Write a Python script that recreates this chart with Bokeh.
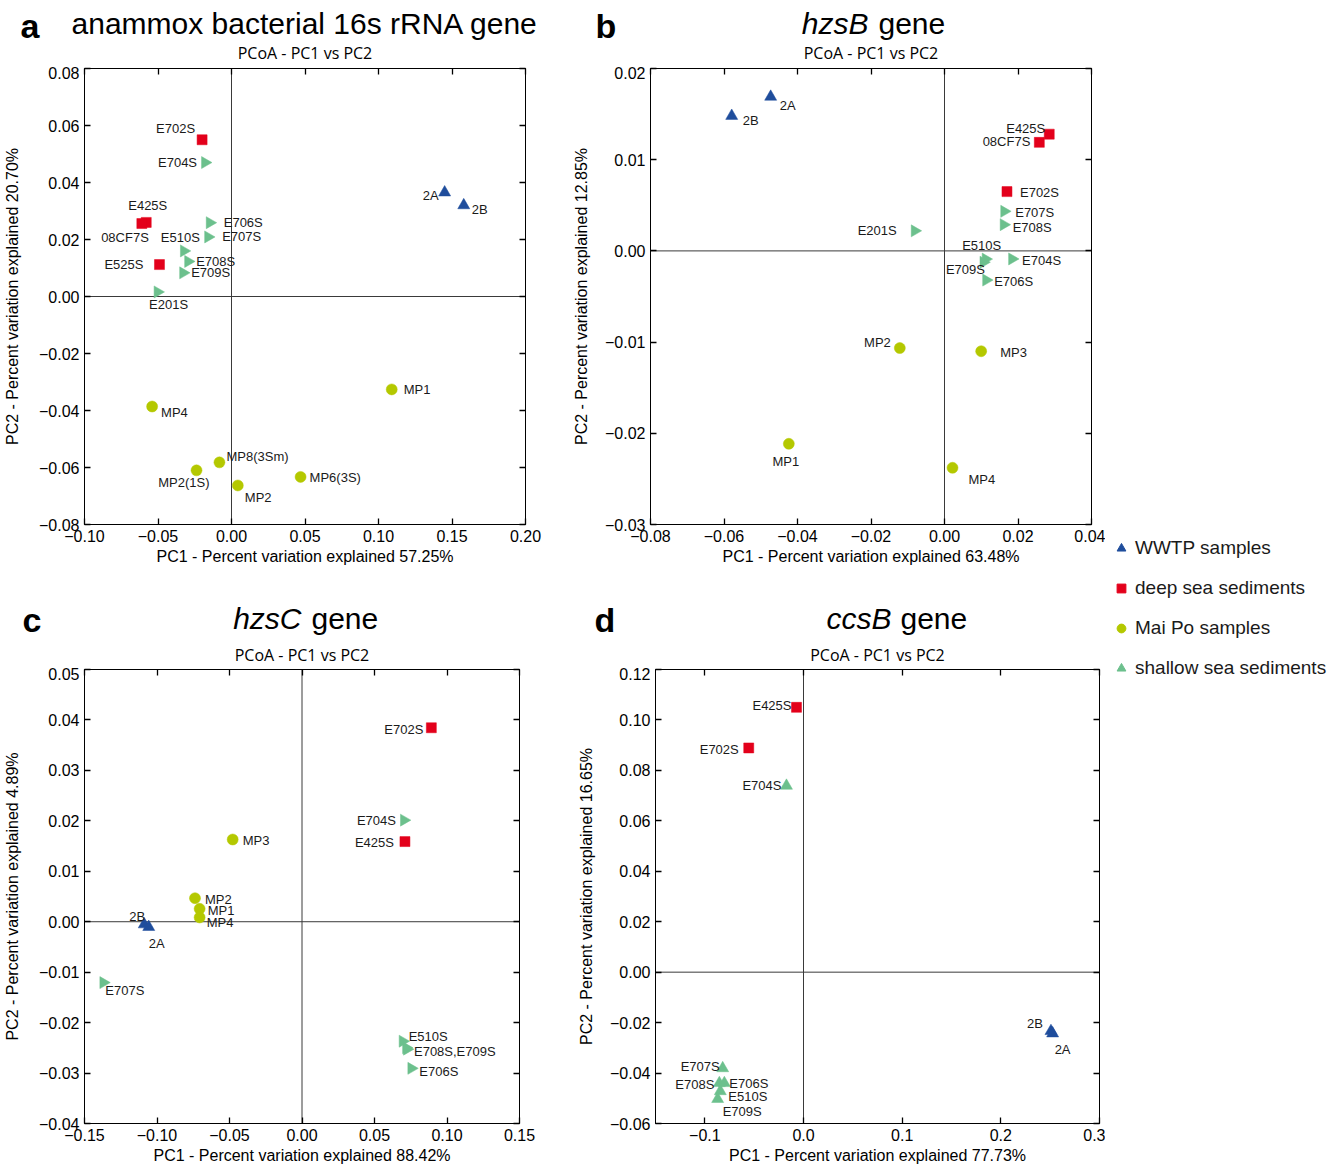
import math
from bokeh.plotting import figure
from bokeh.models import (ColumnDataSource, Span, Label, LinearAxis, FixedTicker,
                          Legend, LegendItem, Range1d, CustomJSTickFormatter,
                          CustomLabelingPolicy)
from bokeh.layouts import row, column
from bokeh.embed import file_html
from bokeh.resources import INLINE
from bokeh.core.properties import value

FONT = "Liberation Sans"
SUB_FONT = "Open Sans"

# ---------------- groups ----------------
GROUPS = ["WWTP", "deep", "MaiPo", "shallow"]
GROUP_LABELS = ["WWTP samples", "deep sea sediments", "Mai Po samples", "shallow sea sediments"]
GROUP_COLORS = ["#1f4d9c", "#e3001b", "#b4c800", "#6cc08d"]
GROUP_MARKERS = ["triangle", "square", "circle", "triangle"]
GROUP_SIZES = [12, 10, 11, 12]

# ---------------- panel a : anammox bacterial 16s rRNA gene ----------------
a_names = ["2A", "2B", "E702S", "E425S", "08CF7S", "E525S", "E704S", "E706S", "E707S",
           "E510S", "E708S", "E709S", "E201S", "MP1", "MP4", "MP8(3Sm)", "MP2(1S)", "MP2", "MP6(3S)"]
a_groups = ["WWTP", "WWTP", "deep", "deep", "deep", "deep", "shallow", "shallow", "shallow",
            "shallow", "shallow", "shallow", "shallow", "MaiPo", "MaiPo", "MaiPo", "MaiPo", "MaiPo", "MaiPo"]
a_pc1 = [0.145, 0.158, -0.020, -0.058, -0.061, -0.049, -0.018, -0.0148, -0.0159,
         -0.0324, -0.0295, -0.0329, -0.0503, 0.109, -0.054, -0.0082, -0.0238, 0.0043, 0.047]
a_pc2 = [0.0365, 0.032, 0.055, 0.026, 0.0256, 0.0112, 0.047, 0.0259, 0.0209,
         0.016, 0.0123, 0.0083, 0.0016, -0.0326, -0.0386, -0.0582, -0.061, -0.0663, -0.0633]
a_xticks = [-0.10, -0.05, 0.0, 0.05, 0.10, 0.15, 0.20]
a_xticklabels = ["\u22120.10", "\u22120.05", "0.00", "0.05", "0.10", "0.15", "0.20"]
a_yticks = [-0.08, -0.06, -0.04, -0.02, 0.0, 0.02, 0.04, 0.06, 0.08]
a_yticklabels = ["\u22120.08", "\u22120.06", "\u22120.04", "\u22120.02", "0.00", "0.02", "0.04", "0.06", "0.08"]
a_xrange = [-0.10, 0.20]
a_yrange = [-0.08, 0.08]
a_title = "anammox bacterial 16s rRNA gene"
a_xlabel = "PC1 - Percent variation explained 57.25%"
a_ylabel = "PC2 - Percent variation explained 20.70%"
# label placement (pixels) and alignment
a_dx = [-6, 8, -7, 1.5, 7, -16, -8, 14, 14, 16, 8, 8, 11, 12, 9, 7, 13, 7, 9]
a_dy = [3, 4, -11, -17, 14, 0, 0, 0, 0, -13, 0, 0, 13, 0, 6, -6, 12, 12, 1]
a_align = ["right", "left", "right", "center", "right", "right", "right", "left", "left",
           "right", "left", "left", "center", "left", "left", "left", "right", "left", "left"]

# ---------------- panel b : hzsB gene ----------------
b_names = ["2A", "2B", "E425S", "08CF7S", "E702S", "E707S", "E708S", "E201S", "E510S",
           "E709S", "E704S", "E706S", "MP2", "MP3", "MP1", "MP4"]
b_groups = ["WWTP", "WWTP", "deep", "deep", "deep", "shallow", "shallow", "shallow", "shallow",
            "shallow", "shallow", "shallow", "MaiPo", "MaiPo", "MaiPo", "MaiPo"]
b_pc1 = [-0.0473, -0.0579, 0.0285, 0.0258, 0.0170, 0.01625, 0.0161, -0.0081, 0.0112,
         0.0106, 0.0184, 0.01134, -0.01216, 0.00998, -0.04236, 0.00218]
b_pc2 = [0.0169, 0.0148, 0.0128, 0.0119, 0.0065, 0.00434, 0.00288, 0.0022, -0.0009,
         -0.00124, -0.00088, -0.0032, -0.01065, -0.0110, -0.02115, -0.02378]
b_xticks = [-0.08, -0.06, -0.04, -0.02, 0.0, 0.02, 0.04]
b_xticklabels = ["\u22120.08", "\u22120.06", "\u22120.04", "\u22120.02", "0.00", "0.02", "0.04"]
b_yticks = [-0.03, -0.02, -0.01, 0.0, 0.01, 0.02]
b_yticklabels = ["\u22120.03", "\u22120.02", "\u22120.01", "0.00", "0.01", "0.02"]
b_xrange = [-0.08, 0.04]
b_yrange = [-0.03, 0.02]
b_gene = "hzsB"
b_xlabel = "PC1 - Percent variation explained 63.48%"
b_ylabel = "PC2 - Percent variation explained 12.85%"
b_dx = [9, 11, -4, -9, 13, 11, 9, -18, -4, -18, 10, 8, -9, 19, -3, 16]
b_dy = [9, 5, -6, -1, 1, 1, 3, 0, -14, 7, 2, 1, -6, 1, 18, 12]
b_align = ["left", "left", "right", "right", "left", "left", "left", "right", "center",
           "center", "left", "left", "right", "left", "center", "left"]

# ---------------- panel c : hzsC gene ----------------
c_names = ["MP3", "MP2", "MP1", "MP4", "2B", "2A", "E707S", "E702S", "E704S", "E425S",
           "E510S", "E708S", "E709S", "E706S"]
c_labels = ["MP3", "MP2", "MP1", "MP4", "2B", "2A", "E707S", "E702S", "E704S", "E425S",
            "E510S", "E708S,E709S", "", "E706S"]
c_groups = ["MaiPo", "MaiPo", "MaiPo", "MaiPo", "WWTP", "WWTP", "shallow", "deep", "shallow", "deep",
            "shallow", "shallow", "shallow", "shallow"]
c_pc1 = [-0.0478, -0.0738, -0.0706, -0.0706, -0.1088, -0.1057, -0.137, 0.0892, 0.0703, 0.0710,
         0.0694, 0.0724, 0.0718, 0.0754]
c_pc2 = [0.0163, 0.00466, 0.00256, 0.00085, -0.00053, -0.00105, -0.01207, 0.03845, 0.02014, 0.01589,
         -0.02368, -0.02526, -0.0250, -0.02907]
c_xticks = [-0.15, -0.10, -0.05, 0.0, 0.05, 0.10, 0.15]
c_xticklabels = ["\u22120.15", "\u22120.10", "\u22120.05", "0.00", "0.05", "0.10", "0.15"]
c_yticks = [-0.04, -0.03, -0.02, -0.01, 0.0, 0.01, 0.02, 0.03, 0.04, 0.05]
c_yticklabels = ["\u22120.04", "\u22120.03", "\u22120.02", "\u22120.01", "0.00", "0.01", "0.02", "0.03", "0.04", "0.05"]
c_xrange = [-0.15, 0.15]
c_yrange = [-0.04, 0.05]
c_gene = "hzsC"
c_xlabel = "PC1 - Percent variation explained 88.42%"
c_ylabel = "PC2 - Percent variation explained 4.89%"
c_dx = [10, 10, 8, 7, -7, 8, 2, -8, -8, -11, 6, 7, 0, 8]
c_dy = [1, 1, 2, 5, -8, 16, 8, 2, 0, 1, -5, 2, 0, 3]
c_align = ["left", "left", "left", "left", "center", "center", "left", "right", "right", "right",
           "left", "left", "left", "left"]

# ---------------- panel d : ccsB gene ----------------
d_names = ["E425S", "E702S", "E704S", "E707S", "E708S", "E706S", "E510S", "E709S", "2B", "2A"]
d_groups = ["deep", "deep", "shallow", "shallow", "shallow", "shallow", "shallow", "shallow", "WWTP", "WWTP"]
d_pc1 = [-0.0071, -0.0555, -0.01726, -0.0819, -0.0853, -0.0802, -0.0843, -0.087, 0.2508, 0.2525]
d_pc2 = [0.105, 0.0889, 0.0739, -0.0381, -0.044, -0.044, -0.0472, -0.0503, -0.02336, -0.0243]
d_xticks = [-0.1, 0.0, 0.1, 0.2, 0.3]
d_xticklabels = ["\u22120.1", "0.0", "0.1", "0.2", "0.3"]
d_yticks = [-0.06, -0.04, -0.02, 0.0, 0.02, 0.04, 0.06, 0.08, 0.10, 0.12]
d_yticklabels = ["\u22120.06", "\u22120.04", "\u22120.02", "0.00", "0.02", "0.04", "0.06", "0.08", "0.10", "0.12"]
d_xrange = [-0.15, 0.30]
d_yrange = [-0.06, 0.12]
d_gene = "ccsB"
d_xlabel = "PC1 - Percent variation explained 77.73%"
d_ylabel = "PC2 - Percent variation explained 16.65%"
d_dx = [-5, -10, -5, -3, -5, 5, 8, 5, -8, 2]
d_dy = [-2, 2, 0, -2, 1, 0, 5, 12, -8, 16]
d_align = ["right", "right", "right", "right", "right", "left", "left", "left", "right", "left"]

SUBTITLE = "PCoA - PC1 vs PC2"


def tick_formatter(tvals, tlabels):
    return CustomJSTickFormatter(args=dict(tv=tvals, tl=tlabels), code="""
        let best = 0, bd = Infinity;
        for (let i = 0; i < tv.length; i++) {
            const d = Math.abs(tv[i] - tick);
            if (d < bd) { bd = d; best = i; }
        }
        return tl[best];
    """)


HIDE_LABELS = CustomLabelingPolicy(code="return new Set()")


def style_axis(ax, tvals, tlabels, show):
    ax.ticker = FixedTicker(ticks=tvals)
    ax.formatter = tick_formatter(tvals, tlabels)
    ax.major_tick_in = 6
    ax.major_tick_out = 0
    ax.minor_tick_in = 0
    ax.minor_tick_out = 0
    ax.axis_line_color = "black"
    ax.axis_line_width = 1
    ax.major_tick_line_color = "black"
    ax.major_tick_line_width = 1.3
    ax.major_label_text_font = FONT
    ax.major_label_text_color = "black"
    ax.axis_label_text_font = FONT
    ax.axis_label_text_font_size = "16px"
    ax.axis_label_text_font_style = "normal"
    ax.axis_label_text_color = "black"
    if show:
        ax.major_label_text_font_size = "16px"
        ax.major_label_standoff = 5
    else:
        ax.major_label_text_font_size = "0px"
        ax.major_label_standoff = 0
        ax.axis_label_standoff = 0
        ax.major_label_policy = HIDE_LABELS


def make_panel(width, height, borders, xr, yr, xt, xtl, yt, ytl, xlabel, ylabel, ystandoff,
               names, labels, groups, pc1, pc2, dx, dy, align, shallow_angle):
    bl, br, bt, bb = borders
    p = figure(width=width, height=height, x_range=Range1d(*xr), y_range=Range1d(*yr),
               output_backend="svg", toolbar_location=None,
               min_border_left=bl, min_border_right=br, min_border_top=bt, min_border_bottom=bb)
    p.grid.visible = False
    p.outline_line_color = "black"
    p.background_fill_color = "white"
    p.border_fill_color = "white"

    style_axis(p.xaxis[0], xt, xtl, True)
    p.xaxis[0].axis_label = xlabel
    p.xaxis[0].axis_label_standoff = 3
    style_axis(p.yaxis[0], yt, ytl, True)
    p.yaxis[0].axis_label = ylabel
    p.yaxis[0].axis_label_standoff = ystandoff

    top = LinearAxis()
    style_axis(top, xt, xtl, False)
    p.add_layout(top, "above")
    right = LinearAxis()
    style_axis(right, yt, ytl, False)
    p.add_layout(right, "right")

    p.add_layout(Span(location=0, dimension="height", line_color="#3a3a3a", line_width=1, level="underlay"))
    p.add_layout(Span(location=0, dimension="width", line_color="#3a3a3a", line_width=1, level="underlay"))

    colors, markers, sizes, angles = [], [], [], []
    for g in groups:
        i = GROUPS.index(g)
        colors.append(GROUP_COLORS[i])
        markers.append(GROUP_MARKERS[i])
        sizes.append(GROUP_SIZES[i])
        angles.append(shallow_angle if g == "shallow" else 0.0)
    src = ColumnDataSource(dict(x=pc1, y=pc2, name=names, label=labels, color=colors, marker=markers,
                                size=sizes, angle=angles, dx=dx, dy=dy, align=align))
    p.scatter("x", "y", marker="marker", size="size", angle="angle", fill_color="color",
              line_color="color", line_width=0.5, source=src)
    p.text("x", "y", text="label", x_offset="dx", y_offset="dy", text_align="align",
           text_baseline="middle", text_font=value(FONT), text_font_size="13px",
           text_color="#1a1a1a", source=src)
    return p


def make_title(width, height, letter, letter_xy, parts, sub_xy):
    t = figure(width=width, height=height, x_range=Range1d(0, 1), y_range=Range1d(0, 1),
               output_backend="svg", toolbar_location=None, x_axis_type=None, y_axis_type=None,
               min_border=0)
    t.outline_line_color = None
    t.grid.visible = False
    t.add_layout(Label(x=letter_xy[0], y=letter_xy[1], x_units="screen", y_units="screen",
                       text=letter, text_font=FONT, text_font_size="34px", text_font_style="bold",
                       text_align="left", text_baseline="alphabetic", text_color="black"))
    for (txt, tx, ty, talign, tstyle) in parts:
        t.add_layout(Label(x=tx, y=ty, x_units="screen", y_units="screen", text=txt,
                           text_font=FONT, text_font_size="30px", text_font_style=tstyle,
                           text_align=talign, text_baseline="alphabetic", text_color="black"))
    t.add_layout(Label(x=sub_xy[0], y=sub_xy[1], x_units="screen", y_units="screen", text=SUBTITLE,
                       text_font=SUB_FONT, text_font_size="16px", text_align="center",
                       text_baseline="alphabetic", text_color="black"))
    return t


RIGHT = -math.pi / 2

ta = make_title(570, 66, "a", (20, 41), [(a_title, 304.5, 43, "center", "normal")], (304.5, 14))
tb = make_title(535, 66, "b", (25, 41),
                [(b_gene, 298, 43, "right", "italic"), ("gene", 308, 43, "left", "normal")], (300.5, 14))
tc = make_title(575, 67, "c", (22, 48),
                [(c_gene, 301, 49, "right", "italic"), ("gene", 311, 49, "left", "normal")], (301.5, 13))
td = make_title(530, 67, "d", (19, 48),
                [(d_gene, 316, 49, "right", "italic"), ("gene", 325, 49, "left", "normal")], (302, 13))

pa = make_panel(570, 534, (84, 45, 2, 76), a_xrange, a_yrange, a_xticks, a_xticklabels,
                a_yticks, a_yticklabels, a_xlabel, a_ylabel, 15,
                a_names, a_names, a_groups, a_pc1, a_pc2, a_dx, a_dy, a_align, RIGHT)
pb = make_panel(535, 534, (80, 14, 2, 76), b_xrange, b_yrange, b_xticks, b_xticklabels,
                b_yticks, b_yticklabels, b_xlabel, b_ylabel, 12,
                b_names, b_names, b_groups, b_pc1, b_pc2, b_dx, b_dy, b_align, RIGHT)
pc = make_panel(575, 499, (84, 56, 2, 40), c_xrange, c_yrange, c_xticks, c_xticklabels,
                c_yticks, c_yticklabels, c_xlabel, c_ylabel, 15,
                c_names, c_labels, c_groups, c_pc1, c_pc2, c_dx, c_dy, c_align, RIGHT)
pd_ = make_panel(530, 499, (80, 6, 2, 40), d_xrange, d_yrange, d_xticks, d_xticklabels,
                 d_yticks, d_yticklabels, d_xlabel, d_ylabel, 12,
                 d_names, d_names, d_groups, d_pc1, d_pc2, d_dx, d_dy, d_align, 0.0)

# ---------------- legend column ----------------
lg = figure(width=230, height=1166, x_range=Range1d(0, 1), y_range=Range1d(0, 1),
            output_backend="svg", toolbar_location=None, x_axis_type=None, y_axis_type=None,
            min_border=0)
lg.outline_line_color = None
lg.grid.visible = False
items = []
for i, g in enumerate(GROUPS):
    lsrc = ColumnDataSource(dict(x=[float("nan")], y=[float("nan")],
                                 angle=[RIGHT if g == "shallow" else 0.0]))
    r = lg.scatter(x="x", y="y", angle="angle", marker=GROUP_MARKERS[i], size=GROUP_SIZES[i],
                   fill_color=GROUP_COLORS[i], line_color=GROUP_COLORS[i], source=lsrc)
    items.append(LegendItem(label=GROUP_LABELS[i], renderers=[r], index=0))
legend = Legend(items=items, location=(5, 487), glyph_width=22, glyph_height=22,
                label_height=22, spacing=18, label_standoff=3, padding=0, margin=0,
                border_line_color=None, background_fill_alpha=0,
                label_text_font=FONT, label_text_font_size="19px", label_text_color="#1a1a1a")
lg.add_layout(legend)

layout = row(column(row(ta, tb), row(pa, pb), row(tc, td), row(pc, pd_)), lg)

with open("out.html", "w") as f:
    f.write(file_html(layout, INLINE))
